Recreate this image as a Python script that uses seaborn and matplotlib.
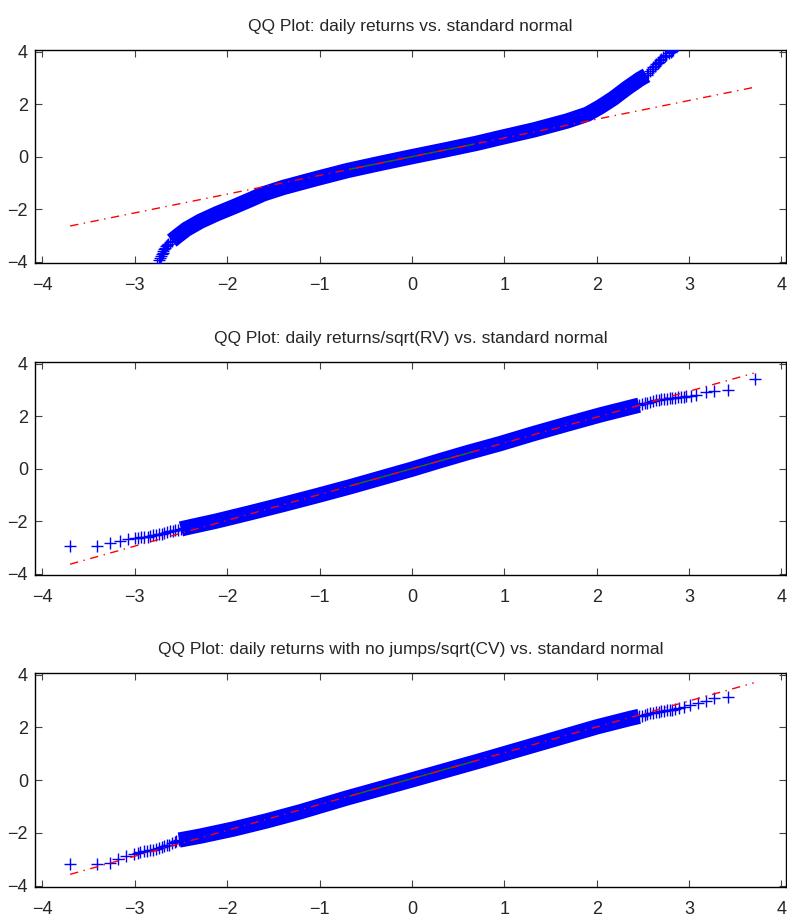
import matplotlib
matplotlib.use("Agg")
import matplotlib.pyplot as plt
import seaborn as sns
import pandas as pd

sns.set_style("ticks")
plt.rcParams['font.family'] = ['Liberation Sans', 'DejaVu Sans']

titles = [
    "QQ Plot: daily returns vs. standard normal",
    "QQ Plot: daily returns/sqrt(RV) vs. standard normal",
    "QQ Plot: daily returns with no jumps/sqrt(CV) vs. standard normal",
]

# standard normal quantile (x) vs sample quantile (y)
# dense middle part of each curve
top_x = [-2.60, -2.54, -2.44, -2.29, -2.11, -1.93, -1.75, -1.61, -1.39, -1.03, -0.70, -0.35,
         0.0, 0.35, 0.70, 0.95, 1.32, 1.68, 1.90, 2.04, 2.18, 2.33, 2.47, 2.54]
top_y = [-3.20, -3.03, -2.76, -2.46, -2.17, -1.91, -1.64, -1.42, -1.17, -0.83, -0.53, -0.26,
         0.0, 0.25, 0.51, 0.72, 1.02, 1.36, 1.62, 1.90, 2.22, 2.62, 2.96, 3.10]
mid_x = [-2.50, -2.47, -2.11, -1.75, -1.39, -1.03, -0.67, -0.31, 0.0, 0.29, 0.59, 0.95,
         1.31, 1.68, 2.04, 2.40, 2.46]
mid_y = [-2.30, -2.27, -1.99, -1.68, -1.36, -1.03, -0.69, -0.33, -0.02, 0.29, 0.60, 0.95,
         1.33, 1.70, 2.05, 2.37, 2.42]
bot_x = [-2.52, -2.29, -1.93, -1.57, -1.21, -0.70, 0.02, 0.74, 1.46, 2.00, 2.36, 2.46]
bot_y = [-2.27, -2.12, -1.85, -1.54, -1.20, -0.67, 0.03, 0.74, 1.47, 2.02, 2.34, 2.42]

# tail points, visible as single '+' marks
top_tail_x = [-2.78, -2.76, -2.74, -2.73, -2.72, -2.71, -2.70, -2.69, -2.68, -2.67,
              -2.66, -2.65, -2.64, -2.62,
              2.56, 2.58, 2.60, 2.61, 2.63, 2.64, 2.66, 2.67, 2.69, 2.70, 2.72,
              2.74, 2.75, 2.78, 2.80, 2.81, 2.83, 2.86]
top_tail_y = [-4.30, -4.08, -3.94, -3.86, -3.80, -3.72, -3.66, -3.58, -3.52, -3.46,
              -3.41, -3.36, -3.31, -3.26,
              3.18, 3.26, 3.34, 3.40, 3.47, 3.52, 3.58, 3.62, 3.68, 3.72, 3.79,
              3.84, 3.88, 3.95, 3.99, 4.02, 4.08, 4.20]
mid_tail_x = [-3.70, -3.41, -3.27, -3.16, -3.07, -3.00, -2.97, -2.93, -2.90, -2.86, -2.83,
              -2.80, -2.77, -2.74, -2.71, -2.68, -2.65, -2.62, -2.59, -2.56, -2.53,
              2.49, 2.52, 2.55, 2.58, 2.61, 2.64, 2.67, 2.70, 2.73, 2.76, 2.79, 2.82,
              2.85, 2.88, 2.91, 2.94, 2.97, 3.02, 3.08, 3.18, 3.27, 3.42, 3.71]
mid_tail_y = [-2.93, -2.93, -2.84, -2.74, -2.68, -2.65, -2.64, -2.62, -2.60, -2.59, -2.57,
              -2.54, -2.52, -2.49, -2.47, -2.44, -2.42, -2.39, -2.37, -2.35, -2.32,
              2.46, 2.49, 2.52, 2.55, 2.57, 2.60, 2.62, 2.64, 2.66, 2.67, 2.69, 2.70,
              2.71, 2.72, 2.73, 2.75, 2.76, 2.78, 2.82, 2.91, 2.97, 3.01, 3.42]
bot_tail_x = [-3.70, -3.41, -3.27, -3.18, -3.09, -3.01, -2.97, -2.94, -2.90, -2.87, -2.83,
              -2.80, -2.77, -2.74, -2.71, -2.68, -2.65, -2.63, -2.60, -2.57, -2.55,
              2.49, 2.52, 2.55, 2.58, 2.61, 2.64, 2.67, 2.70, 2.73, 2.76, 2.79, 2.82,
              2.85, 2.89, 2.94, 3.01, 3.10, 3.18, 3.27, 3.42]
bot_tail_y = [-3.19, -3.17, -3.13, -2.97, -2.88, -2.78, -2.75, -2.72, -2.70, -2.68, -2.66,
              -2.63, -2.60, -2.56, -2.53, -2.50, -2.47, -2.45, -2.40, -2.35, -2.30,
              2.45, 2.48, 2.51, 2.54, 2.56, 2.58, 2.60, 2.62, 2.64, 2.66, 2.67, 2.68,
              2.70, 2.72, 2.76, 2.84, 2.93, 3.02, 3.12, 3.14]

# reference line through the quartiles (dash-dot) and quartile segment (solid)
ref_x = [-3.70, 3.70]
top_ref_y = [-2.64, 2.64]
mid_ref_y = [-3.64, 3.64]
bot_ref_y = [-3.57, 3.69]
quart_x = [-0.674, 0.674]
top_quart_y = [-0.48, 0.48]
mid_quart_y = [-0.66, 0.66]
bot_quart_y = [-0.60, 0.72]

panels = [
    (top_x, top_y, top_tail_x, top_tail_y, top_ref_y, top_quart_y),
    (mid_x, mid_y, mid_tail_x, mid_tail_y, mid_ref_y, mid_quart_y),
    (bot_x, bot_y, bot_tail_x, bot_tail_y, bot_ref_y, bot_quart_y),
]

fig = plt.figure(figsize=(7.87, 9.17), dpi=100)
# axes boxes in figure fractions: [left, bottom, width, height]
boxes = [
    [0.0445, 0.7132, 0.9543, 0.2323],
    [0.0445, 0.3730, 0.9543, 0.2322],
    [0.0445, 0.0327, 0.9543, 0.2334],
]

for i, (dx, dy, tx, ty, ry, qy) in enumerate(panels):
    ax = fig.add_axes(boxes[i])
    dense = pd.DataFrame({'theory': dx, 'sample': dy})
    tail = pd.DataFrame({'theory': tx, 'sample': ty})
    allpts = pd.concat([dense, tail], ignore_index=True)

    sns.lineplot(data=dense, x='theory', y='sample', sort=False, estimator=None,
                 color='#0000ff', lw=11, solid_capstyle='butt', ax=ax)
    sns.scatterplot(data=allpts, x='theory', y='sample', marker='+', s=85,
                    color='#0000ff', linewidth=1.0, ax=ax, zorder=3)
    sns.lineplot(x=quart_x, y=qy, color='#008000', lw=1.0, ax=ax, zorder=4)
    sns.lineplot(x=ref_x, y=ry, color='#ff0000', lw=1.0, linestyle=(0, (6, 4, 1, 4)),
                 ax=ax, zorder=5)

    ax.set_xlim(-4.08, 4.05)
    ax.set_ylim(-4.05, 4.065)
    ax.set_xticks(range(-4, 5))
    ax.set_yticks([-4, -2, 0, 2, 4])
    ax.set_xlabel('')
    ax.set_ylabel('')
    ax.tick_params(direction='in', top=True, right=True, length=5, width=0.8,
                   color='#444444', labelsize=13)
    ax.tick_params(axis='x', pad=10)
    ax.tick_params(axis='y', pad=5)
    for sp in ax.spines.values():
        sp.set_visible(True)
        sp.set_color('black')
        sp.set_linewidth(1.0)
    ax.set_title(titles[i], fontsize=12.5, pad=14)

fig.savefig('out.png', dpi=100)
